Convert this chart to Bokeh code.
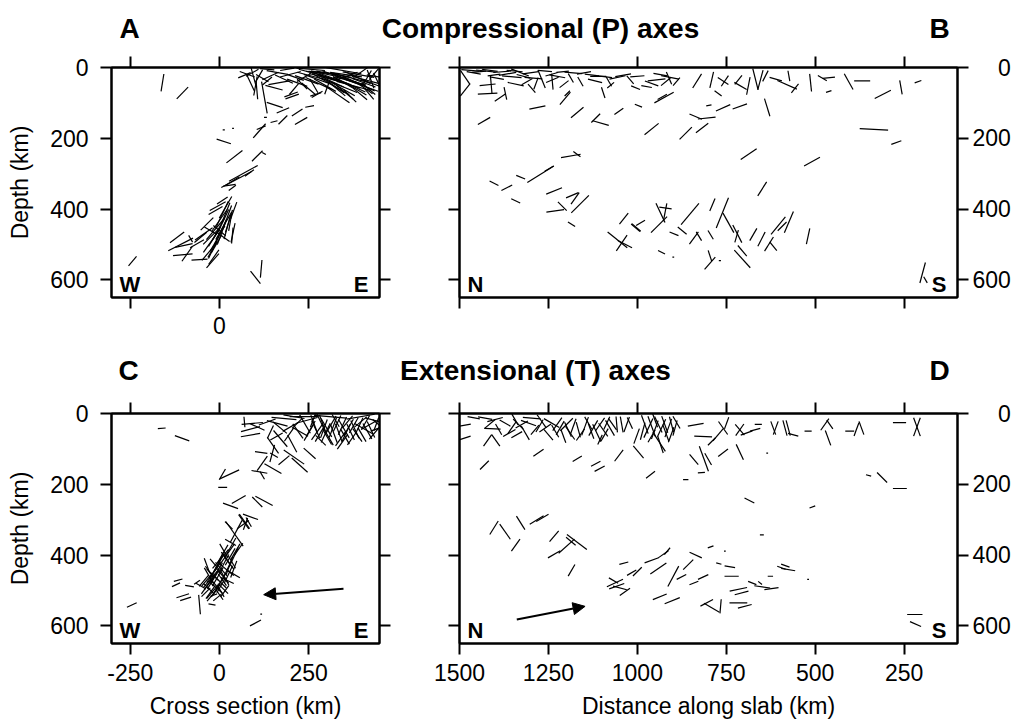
import numpy as np
from bokeh.plotting import figure
from bokeh.layouts import column, row
from bokeh.models import (Range1d, FixedTicker, LinearAxis, Label, Arrow, NormalHead,
                          ColumnDataSource, CustomLabelingPolicy)
from bokeh.embed import file_html
from bokeh.resources import INLINE

FONT = "Liberation Sans"

# ---------------- data ----------------
DEPTH_TICKS = [0, 200, 400, 600]
CROSS_TICKS = [-250, 0, 250]
SLAB_TICKS = [1500, 1250, 1000, 750, 500, 250]
CROSS_RANGE = (-303, 449)
SLAB_RANGE = (1500, 100)
DEPTH_RANGE = (650, 0)

ROW_TITLES = ["Compressional (P) axes", "Extensional (T) axes"]
PANEL_LETTERS = [("A", "B"), ("C", "D")]
CROSS_ENDS = ("W", "E")
SLAB_ENDS = ("N", "S")
DEPTH_LABEL = "Depth (km)"
CROSS_LABEL = "Cross section (km)"
SLAB_LABEL = "Distance along slab (km)"

# each segment: (position km, depth km, apparent tilt deg (+ = down to the right), length km)
A_SEGS = [
    (-160, 43, -81, 50), (-104, 72, -46, 46),
    (70, 22, -23, 38), (96, 28, 75, 60), (101, 52, -80, 55), (87, 43, 65, 50), (111, 24, -60, 40),
    (78, 19, 20, 45), (134, 5, 5, 40), (143, 24, -25, 50), (162, 14, 10, 60), (181, 33, 25, 55),
    (153, 57, 15, 50), (134, 38, -40, 35), (190, 5, -10, 40), (199, 19, -15, 60), (167, 43, -10, 60),
    (213, 28, 20, 50), (218, 43, 20, 60), (209, 61, -50, 40), (232, 47, 45, 40), (237, 28, -30, 45),
    (256, 14, 15, 70), (256, 5, 5, 80), (265, 52, 60, 45), (274, 33, 20, 80), (274, 76, -30, 35),
    (293, 24, 18, 90), (302, 57, -70, 40), (312, 38, 25, 80), (312, 47, 30, 120), (321, 19, 10, 100),
    (330, 61, 40, 60), (332, 77, 35, 80), (340, 28, 20, 110), (349, 43, 30, 70), (349, 9, 10, 100),
    (359, 24, -20, 60), (368, 38, 15, 90), (377, 52, 15, 100), (387, 28, 25, 80), (396, 14, -35, 50),
    (405, 43, 20, 70), (405, 57, 35, 60), (415, 28, -60, 45), (424, 33, 70, 55), (433, 19, -50, 40),
    (443, 38, 65, 50), (360, 33, 20, 90), (300, 30, 15, 100), (390, 45, 25, 100), (335, 50, 22, 110),
    (245, 35, 20, 70), (262, 25, 15, 90), (278, 45, 25, 80), (288, 15, 5, 90), (296, 50, 30, 70),
    (305, 20, 12, 100), (318, 30, 20, 110), (326, 55, 35, 60), (338, 40, 18, 120), (345, 60, 30, 80),
    (355, 20, 8, 90), (364, 48, 25, 100), (372, 30, 15, 110), (382, 60, 30, 70), (390, 20, 10, 90),
    (398, 50, 20, 100), (410, 35, 15, 80), (418, 60, 40, 50), (428, 45, 20, 60), (438, 25, 10, 50),
    (352, 70, 40, 60), (366, 80, 45, 50), (395, 75, 40, 50), (420, 75, 50, 40), (250, 60, 40, 50),
    (92, 15, -30, 40), (105, 65, 85, 50), (120, 30, 30, 40),
    (126, 85, 80, 91), (155, 106, 18, 47), (201, 76, -20, 40), (204, 82, -20, 40), (178, 121, -23, 38),
    (178, 148, -45, 35), (218, 127, -34, 36), (229, 151, -30, 40), (253, 110, -11, 25), (270, 76, -18, 32),
    (129, 141, 0, 8), (153, 153, -14, 20), (112, 179, -49, 53), (117, 170, -22, 27), (125, 243, 30, 12),
    (12, 176, 0, 6), (38, 172, 0, 5), (12, 209, 18, 42), (42, 252, -38, 57), (106, 250, -45, 42),
    (67, 299, -29, 92), (84, 298, -36, 31),
    (47, 317, -28, 95), (36, 321, -32, 47), (28, 333, -8, 35), (36, 340, -37, 25), (-5, 392, -29, 51),
    (8, 376, -34, 36), (17, 395, -60, 70), (8, 414, -65, 80), (22, 423, -70, 70), (0, 432, -55, 75),
    (12, 447, -60, 90), (-11, 456, -50, 80), (3, 465, -65, 80), (-21, 475, -45, 70), (-6, 484, -60, 85),
    (-25, 494, -55, 70), (-16, 508, -65, 70), (-30, 522, -50, 60), (22, 451, -75, 70), (31, 432, -80, 60),
    (40, 404, -70, 50), (-44, 470, -35, 60), (-53, 480, -40, 45), (-35, 442, -45, 50), (-11, 404, -30, 45),
    (0, 461, 40, 45), (-25, 461, 30, 40), (12, 480, 35, 40), (-16, 536, -55, 50), (-19, 546, -49, 53),
    (-2, 455, -62, 70), (10, 435, -65, 75), (-15, 480, -58, 60), (5, 470, -70, 65), (-8, 498, -60, 60),
    (18, 410, -68, 60), (25, 440, -72, 55), (-20, 515, -60, 50),
    (38, 467, -78, 55), (36, 475, -85, 45), (-63, 498, -30, 45), (-119, 480, -37, 50), (-109, 500, -27, 78),
    (-100, 503, -12, 50), (-103, 529, -5, 55), (-91, 527, -55, 50), (-81, 484, 60, 22), (-56, 543, -4, 45),
    (-244, 547, -50, 35), (117, 569, -85, 50), (101, 593, 52, 45),
]

B_SEGS = [
    (1484, 28, 56, 48), (1484, 63, -52, 45), (1426, 10, 6, 55), (1403, 21, -8, 36), (1411, 47, 85, 50),
    (1421, 49, -6, 45), (1421, 74, -3, 55), (1386, 85, -34, 36), (1371, 73, 78, 36), (1353, 26, 5, 55),
    (1342, 47, 12, 46), (1330, 14, 22, 54), (1292, 30, 5, 50), (1297, 59, 50, 32), (1269, 33, 68, 54),
    (1241, 19, -16, 36), (1239, 35, -23, 38), (1239, 40, 85, 45), (1206, 47, -38, 32), (1187, 30, 60, 29),
    (1197, 73, -45, 21), (1203, 87, -50, 46), (1128, 21, 7, 40), (1119, 38, 14, 41), (1091, 26, 7, 40),
    (1096, 71, 72, 32), (1056, 28, -12, 46), (1040, 22, -10, 45), (1005, 57, 22, 27), (974, 54, 10, 30),
    (946, 35, -6, 50), (908, 28, 11, 51), (911, 30, 67, 38), (925, 85, -29, 62), (930, 83, -29, 30),
    (1460, 15, 10, 40), (1380, 12, -5, 50), (1310, 40, -30, 35), (1260, 10, 5, 40), (1160, 40, 60, 30),
    (1150, 15, -10, 40), (1075, 50, -40, 25), (1020, 35, 50, 30), (960, 45, 20, 40), (890, 40, -50, 30),
    (1470, 8, 5, 50), (1445, 12, -5, 40), (1415, 8, 8, 45), (1395, 30, 10, 40), (1365, 18, -10, 50),
    (1345, 10, 5, 45), (1320, 25, 15, 40), (1300, 15, -8, 45), (1285, 45, -70, 35), (1225, 25, 10, 45),
    (1210, 12, -5, 35), (1180, 15, 5, 50), (1110, 25, 0, 45), (1080, 40, 60, 30), (1000, 25, -5, 40),
    (935, 20, 10, 40), (920, 40, -40, 35),
    (1431, 151, -30, 40), (1281, 113, -12, 46), (1169, 127, -40, 46), (1117, 143, -45, 35), (1103, 157, 16, 47),
    (1052, 124, -36, 31), (997, 108, 22, 22), (960, 174, -39, 51), (864, 186, -45, 49), (818, 171, -38, 44),
    (836, 139, 23, 38), (805, 143, -6, 50), (799, 107, -11, 15), (759, 114, -24, 44), (712, 110, -20, 43),
    (635, 113, 73, 52), (687, 245, -34, 54), (509, 266, -29, 51), (335, 175, 3, 80), (310, 76, -27, 51),
    (272, 212, -20, 30), (1187, 250, -10, 56), (1170, 245, 37, 25), (1248, 286, -31, 29),
    (832, 38, -58, 47), (791, 35, -77, 46), (759, 38, 34, 36), (754, 38, -56, 36), (773, 73, 37, 25),
    (716, 35, -51, 32), (710, 52, 30, 40), (688, 52, -79, 51), (668, 33, 76, 62), (654, 35, -75, 57),
    (640, 24, -63, 34), (611, 33, 16, 36), (579, 49, 24, 60), (557, 59, -51, 32), (574, 24, 80, 30),
    (513, 43, 84, 50), (480, 30, 30, 29), (462, 29, -5, 35), (462, 68, -18, 16), (406, 40, 61, 51),
    (368, 38, 0, 45), (259, 56, 80, 40), (211, 40, -20, 20),
    (1403, 327, 27, 28), (1367, 340, -27, 34), (1328, 310, 22, 27), (1272, 302, -32, 88), (1342, 377, 26, 28),
    (1234, 349, -22, 48), (1183, 361, -23, 38), (1161, 386, -45, 70), (1175, 370, -55, 40), (1231, 405, -8, 50),
    (1211, 392, 45, 35), (1185, 443, 33, 24), (1038, 427, -52, 40), (1056, 487, 39, 71), (1044, 496, -56, 54),
    (1035, 499, 27, 45), (1005, 453, 41, 33), (1003, 452, 41, 33), (991, 439, -31, 29), (939, 444, -45, 64),
    (935, 411, 65, 60), (921, 397, 8, 35), (922, 409, -79, 51), (897, 470, 22, 27), (874, 461, 39, 32),
    (852, 414, -50, 78), (841, 482, -54, 43), (827, 477, 59, 29), (789, 388, -67, 38), (794, 473, 59, 29),
    (761, 411, -68, 92), (744, 439, 61, 63), (719, 470, 63, 56), (721, 477, -74, 36), (705, 541, 48, 67),
    (705, 518, 50, 39), (796, 553, -49, 46), (796, 532, 72, 32), (768, 546, 0, 6), (932, 522, 27, 22),
    (899, 536, 0, 5), (674, 472, -60, 40), (651, 485, -63, 45), (630, 499, -58, 47), (618, 505, 51, 32),
    (604, 447, -51, 64), (593, 449, -45, 35), (574, 437, -67, 65), (520, 477, -78, 46), (649, 343, -58, 47),
    (198, 580, -75, 60), (190, 600, 60, 20),
]

C_SEGS = [
    (-162, 42, -5, 22), (-105, 70, 20, 43),
    (92, 28, -5, 60), (87, 44, -15, 55), (87, 61, -10, 55), (70, 24, 85, 30), (106, 38, 25, 45),
    (134, 24, -20, 50), (143, 52, -65, 40), (162, 28, 15, 60), (171, 71, 50, 60), (181, 14, 5, 70),
    (199, 38, -30, 50), (209, 9, 10, 60), (218, 28, -45, 40), (227, 52, 30, 50), (204, 85, 62, 55),
    (246, 19, -15, 60), (256, 43, -60, 50), (265, 28, 70, 50), (274, 52, -55, 55), (284, 24, 65, 60),
    (293, 43, -70, 55), (302, 66, 60, 50), (312, 33, -60, 60), (321, 57, 70, 55), (330, 28, -65, 50),
    (340, 71, -55, 50), (349, 43, 60, 60), (359, 24, -50, 45), (368, 52, 65, 50), (377, 33, -60, 50),
    (387, 61, 55, 45), (396, 24, -40, 45), (405, 43, 30, 60), (419, 33, -30, 50), (433, 19, 15, 50),
    (443, 43, -20, 40), (345, 80, -55, 50), (284, 76, 45, 40), (237, 9, 0, 80), (312, 9, 5, 90),
    (396, 9, -10, 80), (440, 30, -70, 40), (300, 40, 60, 60), (355, 55, -65, 55), (415, 50, 60, 50),
    (240, 30, 60, 60), (250, 55, -60, 50), (262, 20, -70, 40), (270, 45, 65, 55), (280, 60, -60, 45),
    (290, 30, 70, 55), (298, 55, -65, 60), (308, 70, 60, 45), (318, 40, -70, 60), (326, 20, 60, 40),
    (335, 55, 70, 55), (345, 35, -65, 55), (352, 65, 60, 50), (362, 40, -60, 55), (372, 70, -55, 45),
    (380, 45, 65, 55), (392, 35, -65, 50), (400, 60, 60, 45), (410, 25, -60, 45), (425, 45, 65, 50),
    (435, 55, -50, 45), (445, 30, 40, 40), (220, 50, 55, 50), (195, 60, -55, 45), (170, 40, 40, 50),
    (160, 65, -30, 40), (150, 90, 55, 55),
    (253, 113, 42, 45), (148, 113, -75, 50), (153, 118, 30, 25), (117, 110, 8, 35), (209, 123, 35, 70),
    (225, 146, 42, 60), (181, 132, -40, 40), (120, 141, -55, 50), (150, 156, 30, 55), (112, 165, 10, 45),
    (120, 175, 60, 25), (28, 172, -25, 60), (8, 172, -60, 35), (9, 209, 0, 25), (54, 243, -30, 45),
    (31, 261, 20, 45), (87, 292, 20, 45), (106, 250, 45, 40), (125, 247, 28, 55), (68, 306, 55, 50),
    (70, 305, 55, 50), (26, 316, 45, 30),
    (73, 312, -70, 35), (82, 307, 60, 30), (42, 340, 55, 85), (47, 333, -62, 70), (66, 314, -35, 40),
    (54, 383, -55, 40), (31, 378, -60, 60), (22, 397, -55, 70), (12, 388, 60, 45), (40, 406, -65, 60),
    (3, 411, -50, 70), (26, 420, 55, 50), (-6, 430, -60, 75), (17, 439, 40, 60), (40, 454, 30, 40),
    (-16, 449, -55, 70), (8, 458, 50, 55), (-25, 468, -50, 60), (-2, 472, 45, 60), (22, 472, 25, 40),
    (-35, 487, -55, 55), (-11, 491, 40, 50), (-21, 505, -50, 45), (3, 501, 60, 40), (-30, 458, 60, 50),
    (-44, 473, -50, 40), (-35, 430, 70, 45), (31, 364, 30, 35), (-53, 487, 30, 30), (-6, 520, -40, 30),
    (10, 395, -60, 55), (18, 410, 55, 45), (-2, 420, -65, 60), (5, 440, 50, 50), (-12, 440, -60, 55),
    (28, 430, -70, 55), (-20, 455, 45, 45), (-5, 462, -60, 60), (15, 465, 60, 45), (-28, 478, -55, 50),
    (-15, 480, 50, 45), (5, 485, -60, 50), (-30, 495, 45, 40), (-10, 500, -55, 45), (10, 495, 45, 40),
    (-22, 515, -50, 40), (0, 512, 55, 35), (35, 420, 60, 40), (45, 390, -60, 50), (25, 455, -65, 55),
    (-8, 450, -60, 65), (12, 425, -62, 60), (-18, 470, -58, 60), (2, 478, -60, 55), (20, 445, -65, 60),
    (-25, 505, -55, 45), (-5, 490, -60, 50), (30, 405, -60, 55), (-12, 428, 50, 45), (8, 470, 55, 40),
    (-35, 470, -50, 45), (15, 502, -55, 40), (-38, 505, -45, 35), (40, 440, -70, 50), (-28, 448, 55, 40),
    (-122, 484, -25, 25), (-116, 471, -15, 25), (-103, 515, -18, 37), (-95, 524, -18, 32), (-84, 488, 10, 25),
    (-63, 477, -35, 20), (-56, 540, 85, 55), (-21, 540, 10, 20), (-16, 513, -20, 20),
    (-246, 541, -25, 30), (101, 592, -28, 35), (117, 567, 0, 5),
]

D_SEGS = [
    (1484, 33, -10, 32), (1484, 69, -18, 32), (1421, 76, -55, 40), (1398, 76, 55, 40), (1407, 43, 3, 45),
    (1428, 13, 10, 40), (1400, 17, -15, 45), (1372, 27, 30, 35), (1353, 41, -55, 40), (1344, 17, 60, 35),
    (1325, 31, -30, 40), (1306, 27, 20, 45), (1288, 46, -50, 35), (1269, 22, 55, 45), (1259, 41, -35, 40),
    (1241, 27, 30, 50), (1231, 50, 60, 40), (1217, 41, -60, 45), (1208, 64, 70, 40), (1199, 31, -45, 50),
    (1189, 55, 55, 45), (1180, 36, -70, 45), (1166, 46, 75, 45), (1297, 13, 5, 50), (1339, 60, -30, 35),
    (1147, 36, -70, 55), (1138, 27, 60, 40), (1124, 41, -60, 50), (1114, 55, 65, 55), (1105, 31, -55, 45),
    (1096, 46, 55, 45), (1086, 27, -65, 40), (1077, 41, 60, 50), (1105, 74, -65, 30), (1058, 31, 85, 45),
    (1044, 31, 80, 45), (1030, 31, -70, 45), (1021, 27, 65, 35), (1002, 64, -70, 45), (979, 31, 70, 55),
    (969, 41, -65, 60), (960, 36, 70, 60), (951, 46, -70, 55), (941, 31, 65, 50), (932, 41, -65, 55),
    (923, 31, 70, 50), (913, 41, -70, 55), (904, 31, 75, 45), (894, 41, -75, 45), (939, 80, 57, 65),
    (935, 88, 72, 50), (960, 64, -60, 40),
    (1460, 12, 10, 35), (1415, 30, -40, 40), (1390, 45, 60, 35), (1360, 55, -30, 40), (1335, 30, 45, 40),
    (1315, 55, 60, 45), (1275, 35, -60, 40), (1250, 60, 50, 40), (1225, 30, -55, 45), (1195, 45, 65, 45),
    (1160, 60, -55, 40), (1130, 50, 70, 45), (1092, 60, -60, 40), (1070, 30, 55, 40), (985, 50, -75, 50),
    (950, 20, 70, 40), (920, 55, 70, 50), (905, 60, -70, 45), (890, 25, 60, 40),
    (1278, 111, -35, 35), (1430, 146, -45, 35), (1169, 128, -31, 30), (1117, 142, -28, 30), (1106, 156, -28, 32),
    (1052, 119, -53, 40), (997, 109, 50, 45), (963, 173, -38, 32), (836, 32, -10, 45), (815, 65, 2, 50),
    (841, 130, 50, 38), (813, 128, 70, 75), (801, 129, 60, 38), (820, 167, -5, 20), (864, 187, 0, 15),
    (759, 111, -38, 35), (712, 109, 65, 48), (635, 112, 0, 5), (773, 60, -50, 45), (759, 41, 55, 45),
    (749, 27, -70, 35), (791, 79, -45, 30), (712, 46, 50, 40), (712, 46, -55, 40), (693, 55, -20, 35),
    (669, 46, -15, 30), (660, 31, 0, 20), (618, 41, 70, 40), (611, 41, -70, 40), (585, 41, 75, 45),
    (576, 41, 75, 45), (562, 60, 15, 30), (520, 50, 0, 20), (473, 31, -55, 40), (464, 69, 70, 45),
    (459, 31, 55, 30), (403, 50, 0, 25), (384, 45, -70, 40), (370, 41, 70, 40), (263, 26, 0, 37),
    (214, 38, 70, 55), (214, 38, -70, 55), (312, 181, 45, 40), (350, 175, 15, 15), (262, 212, 0, 39),
    (508, 264, -20, 17), (685, 246, 27, 31), (650, 343, 0, 11), (220, 568, 0, 43), (218, 595, 24, 34),
    (1403, 323, -58, 45), (1372, 334, 55, 52), (1342, 372, -55, 42), (1328, 309, 58, 45), (1283, 301, -32, 46),
    (1267, 295, -30, 40), (1234, 347, -50, 40), (1234, 398, -30, 40), (1187, 361, 40, 35), (1199, 375, -42, 60),
    (1170, 363, 37, 70), (1185, 443, -60, 38), (1038, 423, -15, 26), (1063, 479, -25, 50), (1058, 488, -20, 45),
    (1049, 493, 15, 40), (1035, 504, -35, 35), (1067, 472, 30, 30), (1016, 450, -30, 30), (1000, 447, -45, 35),
    (960, 415, -20, 42), (941, 438, -35, 55), (927, 398, -35, 35), (916, 389, -50, 25), (937, 518, -22, 42),
    (902, 529, -22, 46), (899, 460, -62, 65), (876, 462, -27, 30), (857, 427, -45, 40), (836, 400, 25, 38),
    (841, 479, -22, 27), (815, 462, -25, 32), (794, 377, -20, 17), (754, 389, 0, 5), (805, 535, -28, 40),
    (791, 549, 30, 50), (766, 545, -85, 40), (771, 424, 15, 15), (740, 433, 10, 30), (735, 460, 0, 40),
    (716, 497, -12, 50), (716, 535, 0, 50), (698, 545, -15, 40), (707, 507, -15, 40), (677, 479, 22, 25),
    (649, 490, 8, 45), (655, 479, 40, 14), (623, 495, -8, 40), (626, 460, 0, 15), (595, 436, 20, 25),
    (584, 430, 20, 25), (576, 441, 10, 40), (520, 469, 0, 5),
]

# arrows: (x start, depth start, x end, depth end)
ARROW_C = (348, 495, 124, 512)
ARROW_D = (1339, 582, 1147, 545)


# ---------------- helpers ----------------
def seg_source(segs, xdir):
    a = np.asarray(segs, dtype=float)
    x, z, ang, ln = a[:, 0], a[:, 1], a[:, 2], a[:, 3]
    r = np.radians(ang)
    dx = 0.5 * ln * np.cos(r) * xdir
    dz = 0.5 * ln * np.sin(r)
    return ColumnDataSource(dict(x0=x - dx, y0=z - dz, x1=x + dx, y1=z + dz))


def keep_only(idx_list):
    cond = " && ".join(f"i != {k}" for k in idx_list) if idx_list else "true"
    return CustomLabelingPolicy(code=f"for (const i of indices) {{ if ({cond}) indices.unset(i); }} return indices;")


def plain_labels(ticks):
    # ASCII hyphen for negative numbers, as in the original figure
    return {t: str(t) for t in ticks}


def make_axis(ticks, show_labels, standoff=10, overrides=None, title=None, title_standoff=5, keep=None):
    ax = LinearAxis(ticker=FixedTicker(ticks=ticks))
    ax.major_tick_out = 11
    ax.major_tick_in = 0
    ax.minor_tick_out = 0
    ax.minor_tick_in = 0
    ax.major_tick_line_width = 2
    ax.major_tick_line_color = "black"
    ax.axis_line_width = 2
    ax.axis_line_color = "black"
    ax.major_label_text_font = FONT
    ax.major_label_text_color = "black"
    if show_labels:
        ax.major_label_text_font_size = "23px"
        ax.major_label_standoff = standoff
        if keep is not None:
            ax.major_label_policy = keep_only(keep)
    else:
        ax.major_label_text_font_size = "0px"
        ax.major_label_standoff = 0
        ax.major_label_policy = keep_only([])
    ax.major_label_overrides = overrides if overrides else plain_labels(ticks)
    if title:
        ax.axis_label = title
        ax.axis_label_text_font = FONT
        ax.axis_label_text_font_size = "23px"
        ax.axis_label_text_font_style = "normal"
        ax.axis_label_text_color = "black"
        ax.axis_label_standoff = title_standoff
    return ax


def right_aligned(ticks):
    # pad short labels with figure spaces so the right-hand depth labels line up on their right edge
    width = max(len(str(t)) for t in ticks)
    return {t: "\u2007" * (width - len(str(t))) + str(t) for t in ticks}


def panel(xr, segs, xdir, width, height, borders, ends, arrow, axes):
    bl, br, bt, bb = borders
    p = figure(width=width, height=height, x_range=Range1d(*xr), y_range=Range1d(*DEPTH_RANGE),
               output_backend="svg", toolbar_location=None,
               x_axis_location=None, y_axis_location=None,
               min_border_left=bl, min_border_right=br, min_border_top=bt, min_border_bottom=bb)
    p.grid.visible = False
    p.outline_line_color = "black"
    p.outline_line_width = 2
    p.background_fill_color = "white"
    p.border_fill_color = "white"
    for side, ax in axes:
        p.add_layout(ax, side)
    p.segment(x0="x0", y0="y0", x1="x1", y1="y1", source=seg_source(segs, xdir),
              line_color="black", line_width=1.2)
    if arrow is not None:
        p.add_layout(Arrow(x_start=arrow[0], y_start=arrow[1], x_end=arrow[2], y_end=arrow[3],
                           line_width=2, line_color="black",
                           end=NormalHead(size=12, fill_color="black", line_color="black", line_width=1)))
    p.add_layout(Label(x=xr[0], y=DEPTH_RANGE[0], x_offset=8, y_offset=1, text=ends[0],
                       text_align="left", text_baseline="bottom", text_font=FONT,
                       text_font_style="bold", text_font_size="22px", text_color="black"))
    p.add_layout(Label(x=xr[1], y=DEPTH_RANGE[0], x_offset=-11, y_offset=1, text=ends[1],
                       text_align="right", text_baseline="bottom", text_font=FONT,
                       text_font_style="bold", text_font_size="22px", text_color="black"))
    return p


def title_strip(height, letters, text, ty, xs):
    t = figure(width=1024, height=height, x_range=Range1d(0, 1024), y_range=Range1d(height, 0),
               output_backend="svg", toolbar_location=None,
               x_axis_location=None, y_axis_location=None, min_border=0)
    t.grid.visible = False
    t.outline_line_color = None
    for xx, s in zip(xs, (letters[0], text, letters[1])):
        t.add_layout(Label(x=xx, y=ty, text=s, text_align="center", text_baseline="middle",
                           text_font=FONT, text_font_style="bold", text_font_size="28px",
                           text_color="black"))
    return t


# ---------------- panels ----------------
WL, WR = 400, 624
H1, H2 = 293, 328

pa = panel(CROSS_RANGE, A_SEGS, 1, WL, H1, (111, 21, 15, 48), CROSS_ENDS, None, [
    ("left", make_axis(DEPTH_TICKS, True, 12, title=DEPTH_LABEL, title_standoff=14)),
    ("right", make_axis(DEPTH_TICKS, False)),
    ("above", make_axis(CROSS_TICKS, False)),
    ("below", make_axis(CROSS_TICKS, True, 8, keep=[CROSS_TICKS.index(0)])),
])
pb = panel(SLAB_RANGE, B_SEGS, -1, WR, H1, (59, 67, 15, 48), SLAB_ENDS, None, [
    ("left", make_axis(DEPTH_TICKS, False)),
    ("right", make_axis(DEPTH_TICKS, True, 4, overrides=right_aligned(DEPTH_TICKS))),
    ("above", make_axis(SLAB_TICKS, False)),
    ("below", make_axis(SLAB_TICKS, False)),
])
pc = panel(CROSS_RANGE, C_SEGS, 1, WL, H2, (111, 21, 17, 81), CROSS_ENDS, ARROW_C, [
    ("left", make_axis(DEPTH_TICKS, True, 12, title=DEPTH_LABEL, title_standoff=14)),
    ("right", make_axis(DEPTH_TICKS, False)),
    ("above", make_axis(CROSS_TICKS, False)),
    ("below", make_axis(CROSS_TICKS, True, 9, title=CROSS_LABEL, title_standoff=9)),
])
pd_ = panel(SLAB_RANGE, D_SEGS, -1, WR, H2, (59, 67, 17, 81), SLAB_ENDS, ARROW_D, [
    ("left", make_axis(DEPTH_TICKS, False)),
    ("right", make_axis(DEPTH_TICKS, True, 4, overrides=right_aligned(DEPTH_TICKS))),
    ("above", make_axis(SLAB_TICKS, False)),
    ("below", make_axis(SLAB_TICKS, True, 9, title=SLAB_LABEL, title_standoff=9)),
])

t1 = title_strip(52, PANEL_LETTERS[0], ROW_TITLES[0], 28, (129, 540, 939))
t2 = title_strip(51, PANEL_LETTERS[1], ROW_TITLES[1], 25, (128, 535, 939))

layout = column(t1, row(pa, pb), t2, row(pc, pd_))

with open("out.html", "w") as f:
    f.write(file_html(layout, INLINE))
